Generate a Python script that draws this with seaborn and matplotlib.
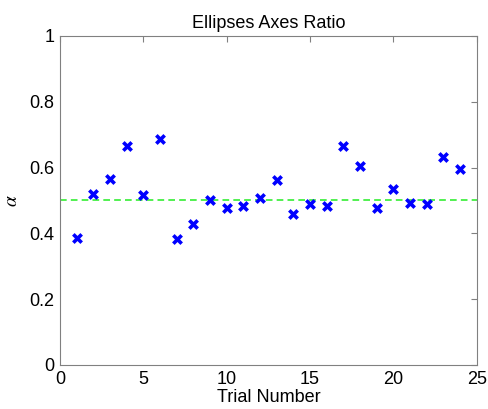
import matplotlib
matplotlib.use("Agg")
import matplotlib.pyplot as plt
import seaborn as sns
import pandas as pd

# values
trials = list(range(1, 25))
ratio = [0.387, 0.519, 0.565, 0.666, 0.516, 0.687, 0.383, 0.429,
         0.500, 0.476, 0.482, 0.507, 0.563, 0.460, 0.490, 0.483,
         0.667, 0.604, 0.478, 0.534, 0.491, 0.488, 0.631, 0.597]
mean_line = 0.5

df = pd.DataFrame({"Trial": trials, "alpha": ratio})

sns.set_style("white")
plt.rcParams["font.family"] = ["Liberation Sans", "DejaVu Sans"]
plt.rcParams["mathtext.fontset"] = "stix"
plt.rcParams["xtick.direction"] = "in"
plt.rcParams["ytick.direction"] = "in"
plt.rcParams["text.color"] = "black"
plt.rcParams["axes.labelcolor"] = "black"

fig = plt.figure(figsize=(4.89, 4.09), dpi=100)
ax = fig.add_axes([0.1227, 0.1076, 0.8521, 0.8044])

sns.scatterplot(data=df, x="Trial", y="alpha", marker="x", color="#0000ff",
                s=36, linewidth=2.6, ax=ax, zorder=3)
ax.axhline(mean_line, color="#33ee33", linestyle="--", linewidth=1.2,
           dashes=(4, 2.5), zorder=2)

ax.set_xlim(0, 25)
ax.set_ylim(0, 1)
ax.set_xticks([0, 5, 10, 15, 20, 25])
ax.set_yticks([0, 0.2, 0.4, 0.6, 0.8, 1])
ax.set_yticklabels(["0", "0.2", "0.4", "0.6", "0.8", "1"])

ax.tick_params(axis="both", labelsize=13, length=4, width=0.8, color="#808080",
               labelcolor="black", top=True, right=True, pad=4)
for sp in ax.spines.values():
    sp.set_color("#808080")
    sp.set_linewidth(0.8)
    sp.set_visible(True)

ax.set_title("Ellipses Axes Ratio", fontsize=13, pad=6)
ax.set_xlabel("Trial Number", fontsize=13, labelpad=1)
ax.set_ylabel(r"$\alpha$", fontsize=14, labelpad=6)

fig.savefig("out.png", dpi=100)
